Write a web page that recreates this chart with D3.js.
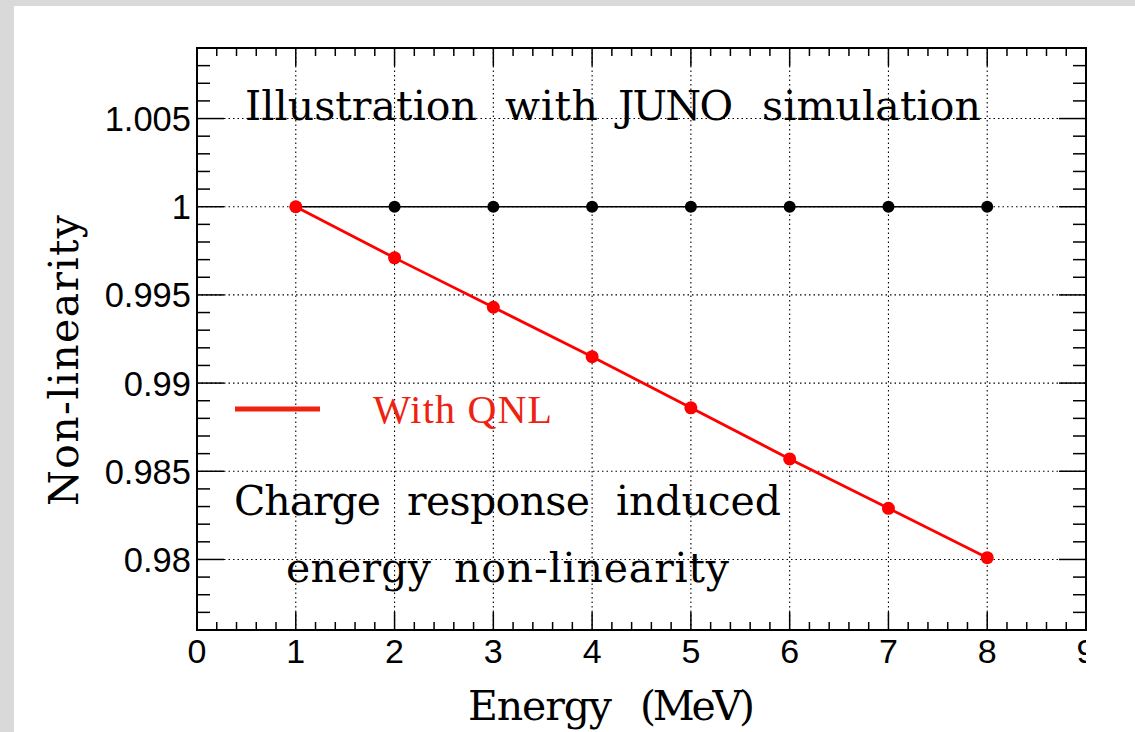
<!DOCTYPE html>
<html>
<head>
<meta charset="utf-8">
<script src="https://cdn.jsdelivr.net/npm/d3@7"></script>
<style>
  html, body { margin: 0; padding: 0; background: #ffffff; }
  svg { display: block; }
  .serif { font-family: "DejaVu Serif", "Liberation Serif", serif; }
  .times { font-family: "Liberation Serif", "Times New Roman", serif; }
  .sans { font-family: "Liberation Sans", Arial, Helvetica, sans-serif; }
</style>
</head>
<body>
<script>
// Energy points (MeV) and the non-linearity of each configuration
const energies = [1, 2, 3, 4, 5, 6, 7, 8];
const nominal = [1, 1, 1, 1, 1, 1, 1, 1];
const withQNL = [1.0, 0.9971, 0.9943, 0.9915, 0.9886, 0.9857, 0.9829, 0.9801];

const xTicks = [0, 1, 2, 3, 4, 5, 6, 7, 8, 9];
const yTicks = [0.98, 0.985, 0.99, 0.995, 1, 1.005];
const yTickLabels = ["0.98", "0.985", "0.99", "0.995", "1", "1.005"];

const W = 1135, H = 732;
const frame = { left: 197, top: 48, right: 1086, bottom: 630 };

const svg = d3.select("body").append("svg")
  .attr("width", W).attr("height", H);

// page background with the grey canvas edge
svg.append("rect").attr("width", W).attr("height", H).attr("fill", "#d9d9d9");
svg.append("rect").attr("x", 14).attr("y", 6).attr("width", W - 14).attr("height", H - 6).attr("fill", "#ffffff");

const x = d3.scaleLinear().domain([0, 9]).range([frame.left, frame.right]);
const y = d3.scaleLinear().domain([0.976, 1.009]).range([frame.bottom, frame.top]);

svg.append("defs").append("clipPath").attr("id", "labelClip")
  .append("rect").attr("x", 0).attr("y", 0).attr("width", frame.right).attr("height", H);

// dotted grid at the major ticks
const grid = svg.append("g").attr("stroke", "#000").attr("stroke-width", 1.1)
  .attr("stroke-dasharray", "1.5,3");
grid.selectAll("line.gx").data(xTicks.filter(d => d > 0 && d < 9)).join("line")
  .attr("x1", d => x(d)).attr("x2", d => x(d))
  .attr("y1", frame.top).attr("y2", frame.bottom);
grid.selectAll("line.gy").data(yTicks).join("line")
  .attr("x1", frame.left).attr("x2", frame.right)
  .attr("y1", d => y(d)).attr("y2", d => y(d));

// ticks on all four sides
const ticks = svg.append("g").attr("stroke", "#000").attr("stroke-width", 1.5);
const xMinor = d3.range(0, 45).map(i => i * 0.2).filter(d => d > 0 && d < 9);
const yMinor = d3.range(0, 34).map(i => 0.976 + i * 0.001).filter(d => d > 0.9765 && d < 1.0085);
const isMajorX = d => Math.abs(d - Math.round(d)) < 1e-6;
const isMajorY = d => Math.abs(d * 200 - Math.round(d * 200)) < 1e-4;

xMinor.forEach(d => {
  const len = isMajorX(d) ? 18 : 8;
  ticks.append("line").attr("x1", x(d)).attr("x2", x(d))
    .attr("y1", frame.bottom).attr("y2", frame.bottom - len);
  ticks.append("line").attr("x1", x(d)).attr("x2", x(d))
    .attr("y1", frame.top).attr("y2", frame.top + len);
});
yMinor.forEach(d => {
  const len = isMajorY(d) ? 27 : 13;
  ticks.append("line").attr("x1", frame.left).attr("x2", frame.left + len)
    .attr("y1", y(d)).attr("y2", y(d));
  ticks.append("line").attr("x1", frame.right).attr("x2", frame.right - len)
    .attr("y1", y(d)).attr("y2", y(d));
});

// frame
svg.append("rect")
  .attr("x", frame.left).attr("y", frame.top)
  .attr("width", frame.right - frame.left).attr("height", frame.bottom - frame.top)
  .attr("fill", "none").attr("stroke", "#000").attr("stroke-width", 2);

// tick labels
svg.append("g").attr("clip-path", "url(#labelClip)").selectAll("text")
  .data(xTicks).join("text")
  .attr("class", "sans")
  .attr("x", d => x(d)).attr("y", 663)
  .attr("text-anchor", "middle").attr("font-size", 34).attr("fill", "#000")
  .text(d => d);

svg.append("g").selectAll("text")
  .data(yTicks).join("text")
  .attr("class", "sans")
  .attr("x", frame.left - 6).attr("y", d => y(d) + 12.5)
  .attr("text-anchor", "end").attr("font-size", 34.5).attr("fill", "#000")
  .text((d, i) => yTickLabels[i]);

// series
const line = d3.line().x(d => x(d[0])).y(d => y(d[1]));
const nomPts = energies.map((e, i) => [e, nominal[i]]);
const qnlPts = energies.map((e, i) => [e, withQNL[i]]);

svg.append("path").datum(nomPts).attr("d", line)
  .attr("fill", "none").attr("stroke", "#000").attr("stroke-width", 1.5);
svg.append("g").selectAll("circle").data(nomPts).join("circle")
  .attr("cx", d => x(d[0])).attr("cy", d => y(d[1])).attr("r", 6).attr("fill", "#000");

svg.append("path").datum(qnlPts).attr("d", line)
  .attr("fill", "none").attr("stroke", "#ff0000").attr("stroke-width", 2.8);
svg.append("g").selectAll("circle").data(qnlPts).join("circle")
  .attr("cx", d => x(d[0])).attr("cy", d => y(d[1])).attr("r", 6.5).attr("fill", "#ff0000");

// annotation text set word by word: each word gets its own start and span
function wordLabel(words, yPos, size) {
  const t = svg.append("text").attr("class", "serif")
    .attr("y", yPos).attr("font-size", size).attr("fill", "#000");
  words.forEach(([w, x0, x1]) => {
    t.append("tspan").attr("x", x0)
      .attr("textLength", x1 - x0).attr("lengthAdjust", "spacing")
      .text(w);
  });
  return t;
}
wordLabel([["Illustration", 245, 477], ["with", 505, 598], ["JUNO", 618, 733], ["simulation", 762, 981]], 120, 41);
wordLabel([["Charge", 234, 381], ["response", 407, 590], ["induced", 616, 781]], 515, 41);
wordLabel([["energy", 286, 431], ["non-linearity", 454, 729]], 582, 41);

// legend
svg.append("line").attr("x1", 235).attr("x2", 320).attr("y1", 409).attr("y2", 409)
  .attr("stroke", "#ee2211").attr("stroke-width", 5);
svg.append("text").attr("class", "times")
  .attr("x", 373).attr("y", 423).attr("font-size", 40).attr("fill", "#ee2211")
  .attr("textLength", 179).attr("lengthAdjust", "spacing")
  .text("With QNL");

// axis titles
wordLabel([["Energy", 468, 612], ["(MeV)", 640, 755]], 720, 41);
svg.append("text").attr("class", "serif")
  .attr("transform", "translate(78,506) rotate(-90)")
  .attr("font-size", 41).attr("fill", "#000")
  .attr("textLength", 291).attr("lengthAdjust", "spacing")
  .text("Non-linearity");
</script>
</body>
</html>
